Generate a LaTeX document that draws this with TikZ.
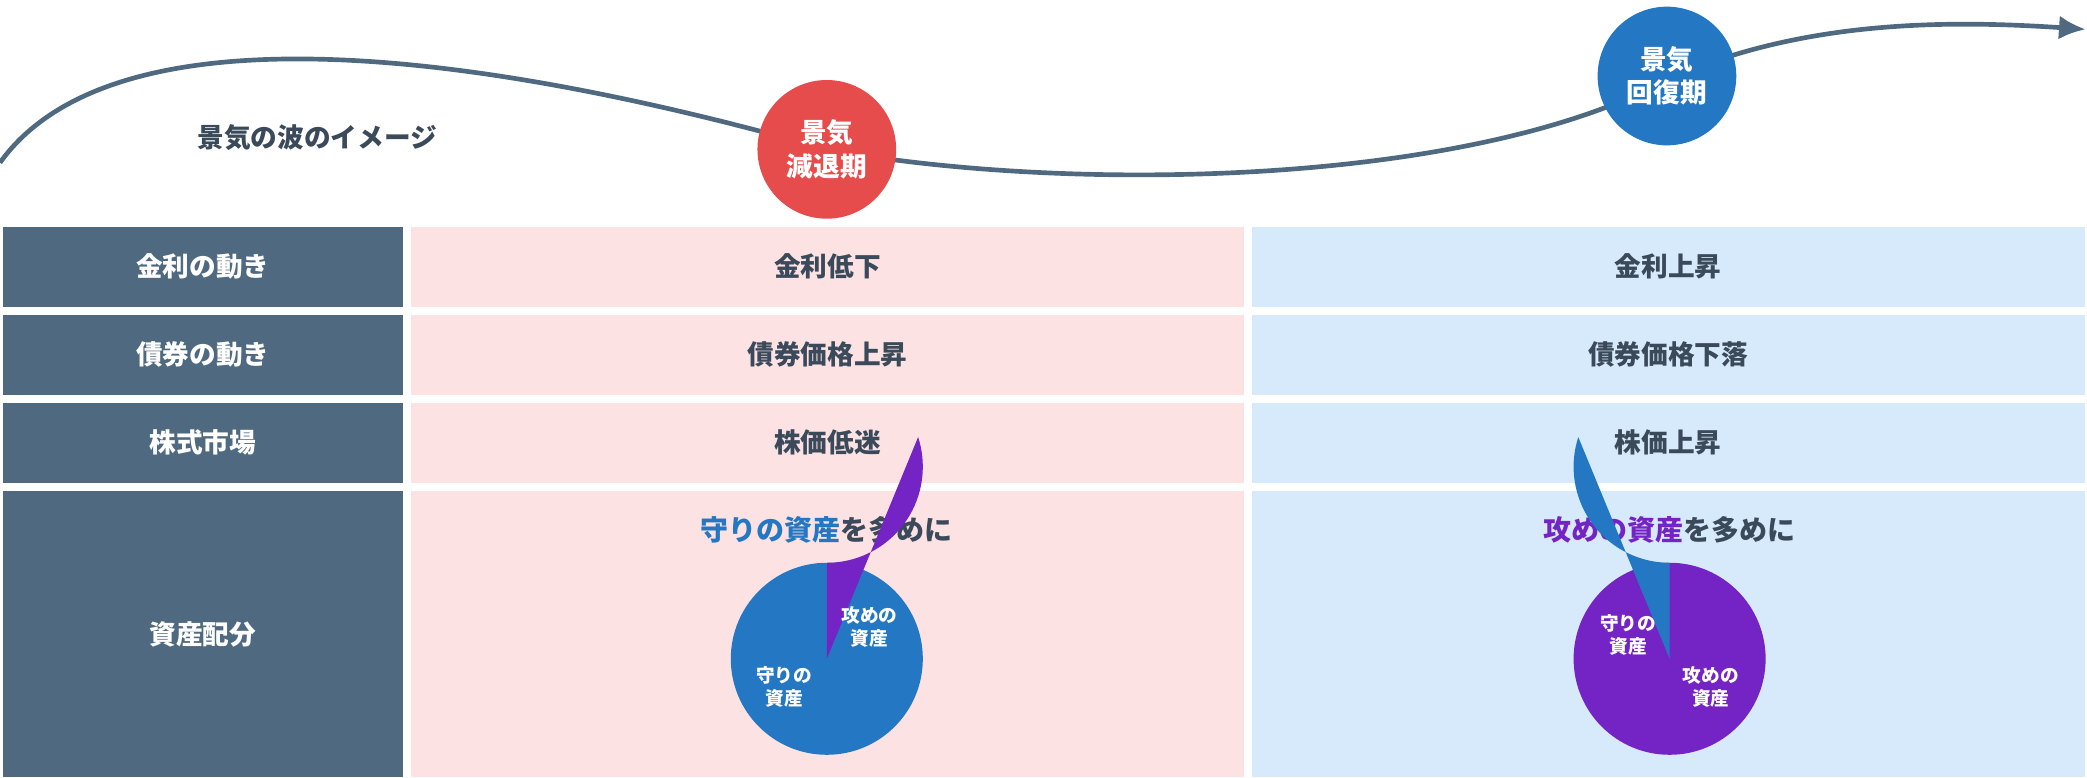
\documentclass[tikz,border=0pt]{standalone}
\usepackage{fontspec}
\setmainfont{Noto Sans CJK JP}
\usetikzlibrary{arrows.meta,positioning}
\definecolor{slate}{HTML}{4F6A80}
\definecolor{ink}{HTML}{3A4A5A}
\definecolor{pinkbg}{HTML}{FDE2E3}
\definecolor{bluebg}{HTML}{D6EAFB}
\definecolor{downred}{HTML}{E64C4C}
\definecolor{upblue}{HTML}{2478C3}
\definecolor{attack}{HTML}{7423C4}
\begin{document}
\begin{tikzpicture}[
        x=1pt, y=-1pt,
        head/.style={fill=slate, text=white, font=\fontsize{20}{24}\selectfont\bfseries,
          minimum width=300pt, minimum height=60pt, inner sep=0pt},
        cellpink/.style={fill=pinkbg, text=ink, font=\fontsize{20}{24}\selectfont\bfseries,
          minimum width=625pt, minimum height=60pt, inner sep=0pt},
        cellblue/.style={cellpink, fill=bluebg},
        phase/.style={circle, minimum size=104pt, inner sep=0pt, text=white,
          align=center, font=\fontsize{20}{25}\selectfont\bfseries},
        slice/.style={text=white, align=center, font=\fontsize{14}{17}\selectfont\bfseries},
        ]
        \useasboundingbox (0,0) rectangle (1565,583);
        % wave
        \coordinate (w-start) at (0,122);
        \coordinate (w-down) at (620,112);
        \coordinate (w-up) at (1250,60);
        \coordinate (w-end) at (1564,22);
        \draw [slate, line width=3.5pt, -{Latex[length=20pt,width=18pt]}]
        (w-start) .. controls (80,10) and (330,30) .. (w-down)
        .. controls (800,145) and (1100,140) .. (w-up)
        .. controls (1350,15) and (1460,15) .. (w-end);
        \node [text=ink, font=\fontsize{20}{24}\selectfont\bfseries] (wave-label) at (238,103) {景気の波のイメージ};
        \node [phase, fill=downred] (recess) at (w-down) {景気\\減退期};
        \node [phase, fill=upblue] (recover) at (1250,57) {景気\\回復期};
        % table
        \foreach \name/\y/\h/\lab in {rate/200/60/金利の動き, bond/266/60/債券の動き, stock/332/60/株式市場, alloc/475.5/215/資産配分} {
          \node [head, minimum height=\h pt] (\name-head) at (152,\y) {\lab};
        }
        \node [cellpink] (rate-down) at (620.5,200) {金利低下};
        \node [cellblue] (rate-up) at (1251,200) {金利上昇};
        \node [cellpink] (bond-down) at (620.5,266) {債券価格上昇};
        \node [cellblue] (bond-up) at (1251,266) {債券価格下落};
        \node [cellpink] (stock-down) at (620.5,332) {株価低迷};
        \node [cellblue] (stock-up) at (1251,332) {株価上昇};
        \node [cellpink, minimum height=215pt] (alloc-down) at (620.5,475.5) {};
        \node [cellblue, minimum height=215pt] (alloc-up) at (1251,475.5) {};
        % allocation
        \node [text=ink, font=\fontsize{21}{25}\selectfont\bfseries] (title-down) at (620,397)
        {\textcolor{upblue}{守りの資産}を多めに};
        \node [text=ink, font=\fontsize{21}{25}\selectfont\bfseries] (title-up) at (1252,397)
        {\textcolor{attack}{攻めの資産}を多めに};
        \coordinate (pie-down) at (620,494);
        \coordinate (pie-up) at (1252,494);
        \fill [upblue] (pie-down) circle (72pt);
        \fill [attack] (pie-down) -- +(0,-72) arc[start angle=-90, end angle=18, radius=72pt] -- cycle;
        \fill [attack] (pie-up) circle (72pt);
        \fill [upblue] (pie-up) -- +(0,-72) arc[start angle=-90, end angle=-198, radius=72pt] -- cycle;
        \node [slice] (attack-down) at (652,470) {攻めの\\資産};
        \node [slice] (defend-down) at (588,515) {守りの\\資産};
        \node [slice] (defend-up) at (1221,476) {守りの\\資産};
        \node [slice] (attack-up) at (1283,515) {攻めの\\資産};
      \end{tikzpicture}
\end{document}
